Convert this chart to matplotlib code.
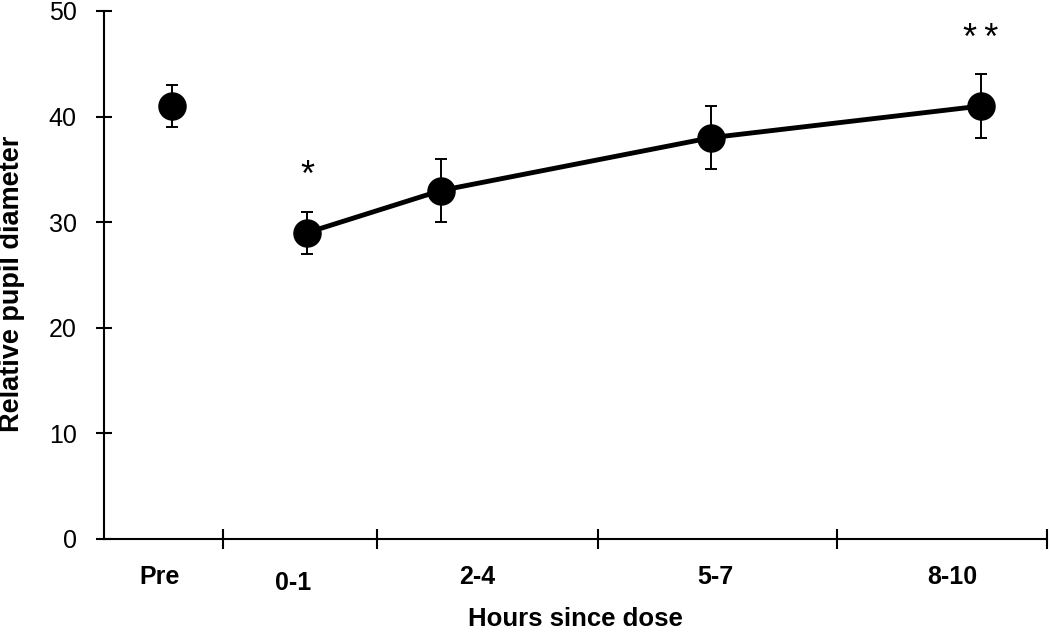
import matplotlib
matplotlib.use("Agg")
import matplotlib.pyplot as plt
from matplotlib.transforms import ScaledTranslation

# ---------- data ----------
groups = ["Pre", "0-1", "2-4", "5-7", "8-10"]
pupil_mean = [41, 29, 33, 38, 41]
pupil_err = [2, 2, 3, 3, 3]
marks = ["", "*", "", "", "*\u2009*"]

# ---------- layout (axis units, the original figure spaces groups unevenly) ----------
point_x = [0.68, 2.03, 3.37, 6.07, 8.77]
label_x = [0.56, 1.89, 3.73, 6.11, 8.48]
bounds_x = [1.19, 2.73, 4.94, 7.33, 9.43]
x_max = 9.43

plt.rcParams["font.family"] = ["Liberation Sans", "DejaVu Sans"]

fig = plt.figure(figsize=(10.5, 6.32), dpi=100)
ax = fig.add_axes([0.099, 0.1472, 0.8981, 0.8354])

# Pre point: stand-alone, others joined by a line
ax.errorbar(point_x, pupil_mean, yerr=pupil_err, fmt="none", ecolor="black",
            elinewidth=1.4, capsize=4.5, capthick=1.4, zorder=2)
ax.plot(point_x[1:], pupil_mean[1:], color="black", lw=3.5, zorder=3,
        solid_capstyle="round")
ax.plot(point_x, pupil_mean, "o", color="black", ms=19.5, zorder=4)

# significance marks
for x, m, e, s in zip(point_x, pupil_mean, pupil_err, marks):
    if s:
        ax.text(x, m + e + 3.3, s, ha="center", va="center", fontsize=26)

ax.set_xlim(0, x_max)
ax.set_ylim(0, 50)
ax.set_yticks(range(0, 51, 10))
ax.tick_params(axis="y", direction="inout", length=11, width=1.5,
               labelsize=18, pad=14)

ax.set_xticks(bounds_x)
ax.set_xticklabels([])
ax.tick_params(axis="x", which="major", direction="inout", length=14, width=1.5)
ax.set_xticks(label_x, minor=True)
ax.set_xticklabels(groups, minor=True, fontsize=18, fontweight="bold")
ax.tick_params(axis="x", which="minor", length=0, pad=19)
# the "0-1" label sits a little lower in the original
lbl = ax.get_xticklabels(minor=True)[1]
lbl.set_transform(lbl.get_transform() + ScaledTranslation(0, -4 / 72, fig.dpi_scale_trans))

for side in ("top", "right"):
    ax.spines[side].set_visible(False)
for side in ("left", "bottom"):
    ax.spines[side].set_linewidth(1.5)

ax.set_xlabel("Hours since dose", fontsize=18.5, fontweight="bold", labelpad=9)
ax.set_ylabel("Relative pupil diameter", fontsize=19.5, fontweight="bold")
ax.yaxis.set_label_coords(-0.084, 0.483)

fig.savefig("out.png", dpi=100)
plt.close(fig)
